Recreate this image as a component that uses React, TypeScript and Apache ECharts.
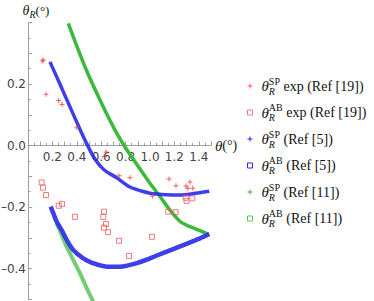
import React, { useEffect, useRef } from "react";
import * as echarts from "echarts";

// ---- data ----
const spExpRef19: number[][] = [
  [0.117, 0.275], [0.125, 0.278], [0.148, 0.167], [0.252, 0.146], [0.279, 0.133],
  [0.4, 0.058], [0.625, -0.036], [0.64, -0.021], [0.746, -0.098], [0.836, -0.105],
  [1.02, -0.164], [1.156, -0.109], [1.213, -0.131], [1.295, -0.132], [1.328, -0.119],
  [1.35, -0.139], [1.31, -0.139],
];
const abExpRef19: number[][] = [
  [0.112, -0.12], [0.123, -0.137], [0.148, -0.161], [0.252, -0.196], [0.279, -0.19],
  [0.385, -0.232], [0.623, -0.215], [0.617, -0.232], [0.639, -0.255], [0.623, -0.267],
  [0.656, -0.282], [0.746, -0.31], [0.828, -0.359], [1.016, -0.297], [1.15, -0.215],
  [1.21, -0.217], [1.293, -0.17], [1.3, -0.18], [1.347, -0.172],
];
const spRef5: number[][] = [
  [0.18, 0.272], [0.258, 0.203], [0.336, 0.133], [0.418, 0.06], [0.486, 0.002],
  [0.55, -0.045], [0.62, -0.078], [0.727, -0.105], [0.836, -0.135], [0.93, -0.148],
  [1.0, -0.155], [1.137, -0.16], [1.246, -0.161], [1.35, -0.157], [1.486, -0.149],
];
const abRef5: number[][] = [
  [0.186, -0.199], [0.207, -0.22], [0.235, -0.248], [0.276, -0.275], [0.317, -0.307],
  [0.371, -0.34], [0.453, -0.367], [0.535, -0.383], [0.645, -0.394], [0.754, -0.394],
  [0.863, -0.386], [1.0, -0.367], [1.137, -0.345], [1.273, -0.324], [1.41, -0.302],
  [1.486, -0.288],
];
const spRef11: number[][] = [
  [0.33, 0.397], [0.467, 0.256], [0.59, 0.148], [0.713, 0.05], [0.787, 0.0],
  [0.877, -0.053], [1.0, -0.123], [1.082, -0.166], [1.164, -0.21], [1.25, -0.248],
  [1.328, -0.264], [1.478, -0.288],
];
const abRef11: number[][] = [
  [0.235, -0.253], [0.276, -0.291], [0.317, -0.329], [0.358, -0.362], [0.399, -0.394],
  [0.44, -0.427], [0.481, -0.464], [0.522, -0.497], [0.54, -0.512],
];
const seriesNames = [
  "SP exp (Ref [19])",
  "AB exp (Ref [19])",
  "SP (Ref [5])",
  "AB (Ref [5])",
  "SP (Ref [11])",
  "AB (Ref [11])",
];

const RED = "#f23a3a";
const RED_SQ = "#ee5a5a";
const BLUE = "#2a2ae8";
const GREEN = "#3cb83c";
const GREEN_SQ = "#5cc45c";
const PLUS = "path://M2,0H3V2H5V3H3V5H2V3H0V2H2Z";
const SERIF = "'Liberation Serif', 'DejaVu Serif', serif";
const SANS = "'DejaVu Sans', sans-serif";

const Y_MIN = -0.5;
const Y_MAX = 0.4;
const GRID_H = 276.75;

export default function App() {
  const ref = useRef<HTMLDivElement>(null);
  useEffect(() => {
    if (!ref.current) return;
    const chart = echarts.init(ref.current, null, { renderer: "svg" });
    const axisGray = "#a0a0a0";
    const legendItem = (i: number, color: string, plus: boolean) =>
      plus
        ? { name: seriesNames[i], icon: PLUS, itemStyle: { color, borderWidth: 0 } }
        : {
            name: seriesNames[i],
            icon: "rect",
            itemStyle: { color: "rgba(0,0,0,0)", borderColor: color, borderWidth: 1 },
          };
    // shift the x axis up so it sits at y = 0
    const zeroOffset = -((0 - Y_MIN) / (Y_MAX - Y_MIN)) * GRID_H;
    chart.setOption({
      animation: false,
      backgroundColor: "#fff",
      grid: {
        left: 28,
        top: 22.5,
        width: 183,
        height: GRID_H,
        containLabel: false,
        outerBoundsMode: "none",
      },
      xAxis: {
        type: "value",
        min: 0,
        max: 1.5,
        interval: 0.1,
        position: "bottom",
        offset: zeroOffset,
        name: "{t|θ}{n|(°)}",
        nameLocation: "end",
        nameGap: 4,
        nameMoveOverlap: false,
        nameTextStyle: {
          rich: {
            t: { fontFamily: SERIF, fontStyle: "italic", fontSize: 15, color: "#222" },
            n: { fontFamily: SERIF, fontSize: 14, color: "#222" },
          },
        },
        axisLine: { onZero: false, lineStyle: { color: axisGray, width: 1 } },
        axisTick: { show: true, inside: true, length: 4, lineStyle: { color: axisGray } },
        minorTick: { show: true, splitNumber: 2, length: 2.5, lineStyle: { color: axisGray } },
        splitLine: { show: false },
        axisLabel: {
          margin: 5,
          color: "#444",
          fontFamily: SANS,
          fontSize: 12,
          formatter: (v: number) => {
            const k = Math.round(v * 10);
            return k > 0 && k <= 14 && k % 2 === 0 ? v.toFixed(1) : "";
          },
        },
      },
      yAxis: {
        type: "value",
        min: Y_MIN,
        max: Y_MAX,
        interval: 0.1,
        name: "{t|θ}{r|R}{n|(°)}",
        nameLocation: "end",
        nameGap: 3,
        nameMoveOverlap: false,
        nameTextStyle: {
          align: "center",
          rich: {
            t: { fontFamily: SERIF, fontStyle: "italic", fontSize: 14, lineHeight: 18, padding: [0, 0, 0, 16], color: "#222" },
            r: { fontFamily: SERIF, fontStyle: "italic", fontSize: 10, lineHeight: 10, verticalAlign: "bottom", color: "#222" },
            n: { fontFamily: SERIF, fontSize: 13, lineHeight: 18, color: "#222" },
          },
        },
        axisLine: { onZero: false, lineStyle: { color: axisGray, width: 1 } },
        axisTick: { show: true, inside: true, length: 4, lineStyle: { color: axisGray } },
        minorTick: { show: true, splitNumber: 2, length: 2.5, lineStyle: { color: axisGray } },
        splitLine: { show: false },
        axisLabel: {
          margin: 2,
          color: "#444",
          fontFamily: SANS,
          fontSize: 12,
          formatter: (v: number) => {
            const k = Math.round(v * 10);
            if (k % 2 !== 0 || k > 2 || k < -4) return "";
            return k < 0 ? "\u2013" + Math.abs(v).toFixed(1) : v.toFixed(1);
          },
        },
      },
      legend: {
        orient: "vertical",
        left: 247,
        top: 76,
        itemWidth: 5,
        itemHeight: 5,
        itemGap: 6.5,
        padding: 0,
        selectedMode: false,
        data: [
          legendItem(0, RED, true),
          legendItem(1, RED_SQ, false),
          legendItem(2, BLUE, true),
          legendItem(3, BLUE, false),
          legendItem(4, GREEN, true),
          legendItem(5, GREEN_SQ, false),
        ],
        formatter: (name: string) => {
          const parts = name.split(" ");
          const sup = parts[0];
          const rest = parts.slice(1).join(" ");
          return `{t|θ}{r|R}{p|${sup}}{n| ${rest}}`;
        },
        textStyle: {
          color: "#111",
          rich: {
            t: { fontFamily: SERIF, fontStyle: "italic", fontSize: 15, lineHeight: 20, padding: [0, 0, 0, 4], color: "#111" },
            r: { fontFamily: SERIF, fontStyle: "italic", fontSize: 10, lineHeight: 10, verticalAlign: "bottom", width: 0, color: "#111" },
            p: { fontFamily: SERIF, fontSize: 10, lineHeight: 10, verticalAlign: "top", color: "#111" },
            n: { fontFamily: SERIF, fontSize: 14, lineHeight: 20, color: "#111" },
          },
        },
      },
      series: [
        {
          name: seriesNames[0],
          type: "scatter",
          data: spExpRef19,
          symbol: PLUS,
          symbolSize: 5,
          itemStyle: { color: RED },
          z: 5,
        },
        {
          name: seriesNames[1],
          type: "scatter",
          data: abExpRef19,
          symbol: "rect",
          symbolSize: 5,
          itemStyle: { color: "rgba(0,0,0,0)", borderColor: RED_SQ, borderWidth: 1 },
          z: 5,
        },
        {
          name: seriesNames[2],
          type: "line",
          data: spRef5,
          smooth: 0.3,
          showSymbol: false,
          symbol: "none",
          itemStyle: { color: BLUE },
          lineStyle: { color: BLUE, width: 3.5, opacity: 0.9 },
          z: 3,
        },
        {
          name: seriesNames[3],
          type: "line",
          data: abRef5,
          smooth: 0.3,
          showSymbol: false,
          symbol: "none",
          itemStyle: { color: BLUE },
          lineStyle: { color: BLUE, width: 4.5, opacity: 0.9 },
          z: 3,
        },
        {
          name: seriesNames[4],
          type: "line",
          data: spRef11,
          smooth: 0.3,
          showSymbol: false,
          symbol: "none",
          itemStyle: { color: GREEN },
          lineStyle: { color: GREEN, width: 3.5 },
          z: 2,
        },
        {
          name: seriesNames[5],
          type: "line",
          data: abRef11,
          smooth: 0.3,
          showSymbol: false,
          symbol: "none",
          itemStyle: { color: GREEN_SQ },
          lineStyle: { color: GREEN_SQ, width: 4, opacity: 0.85 },
          z: 2,
        },
      ],
    });
    return () => chart.dispose();
  }, []);
  return (
    <div
      ref={ref}
      style={{ position: "fixed", left: 0, top: 0, width: 374, height: 301, background: "#fff" }}
    />
  );
}
